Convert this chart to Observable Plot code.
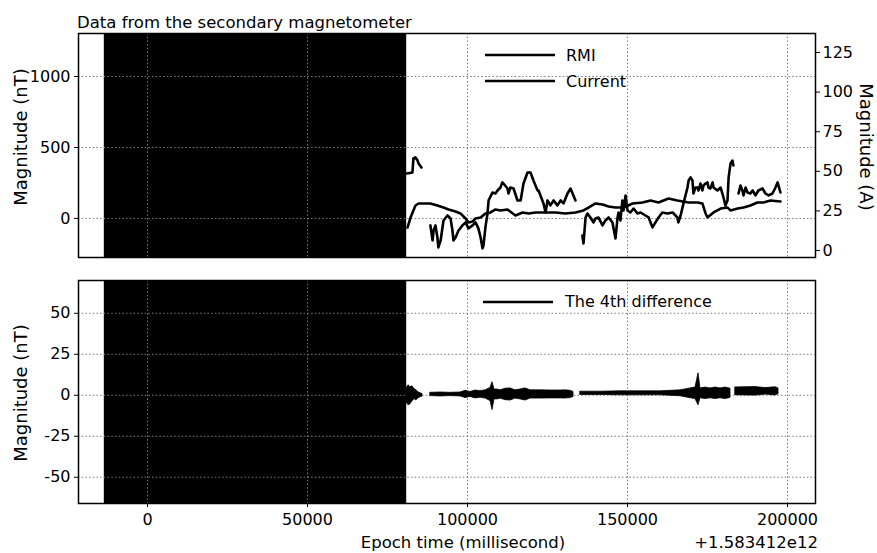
<!DOCTYPE html>
<html><head><meta charset="utf-8">
<script src="https://cdn.jsdelivr.net/npm/d3@7"></script>
<script src="https://cdn.jsdelivr.net/npm/@observablehq/plot@0.6"></script>
<style>
body{margin:0;background:#fff;}
#wrap{position:relative;width:877px;height:553px;overflow:hidden;background:#fff;}
#wrap > svg{position:absolute;left:0;}
</style></head><body><div id="wrap"></div>
<script>
// ---------- data ----------
const xTicks = [0, 50000, 100000, 150000, 200000];
const rmiTicks = [0, 500, 1000];
const currentTicks = [0, 25, 50, 75, 100, 125];
const diffTicks = [-50, -25, 0, 25, 50];

const shadeStart = [-13500];
const shadeEnd = [81000];

const rmiTime = [81000,82800,83100,83750,84400,84700,85600, 86800,
88400,89100,89400,90000,90600,90900,91600,92500,93750,94700,95300,95600,96250,97200,98400,99400,100300,101600,102500,103400,104100,104700,105000,105600,106250,106600,107800,108750,109400,110300,110900,111250,112500,112800,113400,114400,115600,116600,117500,118750,119700,120600,121900,122200,122800,123750,124400,125000,125900,126900,128100,129100,130000,131250,132200,133100,133750, 134800,
135900,136250,136900,137500,138400,139400,140000,140900,142200,143100,144100,145300,146250,146900,147200,147800,148400,148750,149400,150000,150900,151900,153100,154100,155600,156600,157800,158750,159700,160900,162500,164100,165600,165900,166600,167500,168750,169100,169700,170300,170600,171250,171900,172200,172800,173400,173750,174400,175000,175300,175900,176600,176900,178100,179100,180000,180600,181250,181600,182200,182800,183100, 183900,
184700,185300,185900,186250,186900,187500,188400,189100,190000,190900,192200,193100,194100,195300,196250,196900,197200,197800];
const rmiValue = [317,324,423,430,408,387,359, NaN,
-49,-155,-85,-49,-134,-204,-155,-14,21,0,-85,-155,-134,-85,-49,-28,-70,-49,-28,-70,-134,-211,-190,-63,35,127,183,176,197,218,254,246,211,176,218,211,127,127,246,324,324,268,197,197,162,106,42,127,92,127,92,127,106,176,211,162,127, NaN,
-120,-176,7,35,7,-28,0,7,-49,-14,7,-28,-141,7,42,-14,127,56,162,56,42,70,35,42,21,7,-63,-28,7,42,35,42,7,-28,21,106,218,268,289,268,176,218,218,197,246,197,232,246,254,218,211,254,218,197,218,148,92,127,289,387,408,373, NaN,
176,232,197,162,218,183,176,197,162,197,211,176,162,176,218,254,232,183];

const currentTime = [81250,82200,83750,84700,88400,90600,92500,94100,96250,97800,99400,100300,101600,102500,104100,105600,107200,108750,110300,112500,115000,117200,119100,121250,124400,127500,130600,133750,136250,137800,140000,142200,144100,146250,148750,151600,154700,157200,159700,162800,165600,169100,171900,173400,174400,175000,176900,179100,181250,182200,184400,186250,188400,190600,192500,194700,197800];
const currentValue = [14.5,20.8,28.4,29.7,29.7,28.4,27.1,25.9,24.6,23.4,20.2,17.7,18.3,20.2,20.8,23.4,24.0,25.9,25.3,25.9,22.1,24.0,23.4,24.0,24.0,24.0,23.4,24.0,25.3,27.1,29.7,29.0,27.8,27.1,27.1,29.7,30.3,31.6,30.3,32.8,31.6,30.3,30.3,29.7,23.4,20.8,24.0,26.5,27.1,25.3,26.5,27.1,28.4,30.3,30.3,31.6,30.9];

const diffTime = [80940,81560,82190,82810,83440,84060,84690,85310,85940, 87000,
88440,91560,94690,97810,99380,100940,102500,104060,105630,107190,107810,108440,109380,110310,111880,113440,115000,116560,118130,119690,122810,125940,129060,130630,132190,133130, 134200,
135310,141560,147810,154060,160310,163440,166560,168130,169690,171250,172190,172810,174380,175940,177500,179060,180630,182190, 183000,
183750,186880,190000,193130,196250,197190];
const diffHigh = [4.3,6.1,4.9,5.5,3.7,3.0,1.8,1.2,0.8, NaN,
1.5,1.7,1.5,1.7,2.7,2.0,2.9,2.5,3.0,4.5,8.0,3.5,3.5,3.0,4.0,4.2,3.0,3.5,4.2,3.0,3.0,2.9,2.9,3.0,2.7,2.0, NaN,
2.2,2.2,2.4,2.4,2.4,2.7,3.0,3.6,4.2,4.7,13.4,4.2,4.7,4.2,4.7,4.2,4.7,4.0, NaN,
4.8,4.9,5.0,4.4,4.9,4.2];
const diffLow = [-4.3,-6.1,-5.5,-3.7,-2.4,-3.0,-1.8,-1.2,-0.8, NaN,
-0.5,-0.7,-0.5,-0.7,-1.7,-1.0,-1.9,-1.5,-2.0,-3.5,-9.0,-2.5,-2.5,-2.0,-3.0,-3.2,-2.0,-2.5,-3.2,-2.0,-2.0,-1.9,-1.9,-2.0,-1.7,-1.0, NaN,
0.2,0.2,0.0,0.0,0.0,-0.3,-0.6,-1.2,-1.8,-2.3,-6.1,-1.8,-2.3,-1.8,-2.3,-1.8,-2.3,-1.6, NaN,
0.0,-0.1,-0.2,0.4,-0.1,0.6];

// ---------- scales ----------
const X_DOMAIN = [-21562.5, 208750];
const NT_DOMAIN = [-275, 1303];
const A_DOMAIN = [-4.42, 137.0];
const D_DOMAIN = [-66, 70];
const aToN = a => NT_DOMAIN[0] + (a - A_DOMAIN[0]) / (A_DOMAIN[1] - A_DOMAIN[0]) * (NT_DOMAIN[1] - NT_DOMAIN[0]);
const nToA = n => A_DOMAIN[0] + (n - NT_DOMAIN[0]) / (NT_DOMAIN[1] - NT_DOMAIN[0]) * (A_DOMAIN[1] - A_DOMAIN[0]);

const shade = shadeStart.map((s, i) => ({x1: s, x2: shadeEnd[i]}));
const rmi = rmiTime.map((t, i) => ({t, v: rmiValue[i]}));
const cur = currentTime.map((t, i) => ({t, v: aToN(currentValue[i])}));
const diff = diffTime.map((t, i) => ({t, hi: diffHigh[i], lo: diffLow[i]}));

const FONT = "DejaVu Sans, Verdana, sans-serif";
const grid = {stroke: "#7a7a7a", strokeOpacity: 1, strokeDasharray: "1.5,2.2", strokeWidth: 1};
const baseStyle = {fontFamily: FONT, fontSize: "16px", background: "transparent", color: "#000", overflow: "visible"};

const topPlot = Plot.plot({
  width: 877, height: 265, marginTop: 33, marginBottom: 8, marginLeft: 78, marginRight: 62,
  style: baseStyle,
  x: {domain: X_DOMAIN, axis: null},
  y: {domain: NT_DOMAIN},
  marks: [
    Plot.rect(shade, {x1: "x1", x2: "x2", y1: NT_DOMAIN[0], y2: NT_DOMAIN[1], fill: "#000"}),
    Plot.ruleX(xTicks, grid),
    Plot.ruleY(rmiTicks, grid),
    Plot.line(cur, {x: "t", y: "v", stroke: "#000", strokeWidth: 2.6}),
    Plot.line(rmi, {x: "t", y: "v", stroke: "#000", strokeWidth: 2.6}),
    Plot.axisY(rmiTicks, {anchor: "left", tickSize: 4, tickPadding: 4, label: null, tickFormat: d => String(d)}),
    Plot.axisY(currentTicks.map(aToN), {anchor: "right", tickSize: 4, tickPadding: 3, label: null, tickFormat: d => String(Math.round(nToA(d)))}),
    Plot.frame({stroke: "#000", strokeWidth: 1.5})
  ]
});
topPlot.style.top = "0px";

const bottomPlot = Plot.plot({
  width: 877, height: 288, marginTop: 15, marginBottom: 50, marginLeft: 78, marginRight: 62,
  style: baseStyle,
  x: {domain: X_DOMAIN},
  y: {domain: D_DOMAIN},
  marks: [
    Plot.rect(shade, {x1: "x1", x2: "x2", y1: D_DOMAIN[0], y2: D_DOMAIN[1], fill: "#000"}),
    Plot.ruleX(xTicks, grid),
    Plot.ruleY(diffTicks, grid),
    Plot.areaY(diff, {x: "t", y1: "lo", y2: "hi", fill: "#000", stroke: "#000", strokeWidth: 0.8}),
    Plot.axisY(diffTicks, {anchor: "left", tickSize: 4, tickPadding: 4, label: null, tickFormat: d => String(d)}),
    Plot.axisX(xTicks, {anchor: "bottom", tickSize: 4, tickPadding: 6.5, label: null, tickFormat: d => String(d)}),
    Plot.frame({stroke: "#000", strokeWidth: 1.5})
  ]
});
bottomPlot.style.top = "265px";

const wrap = document.getElementById("wrap");
wrap.appendChild(topPlot);
wrap.appendChild(bottomPlot);

// ---------- titles, axis labels and legends ----------
const ov = d3.select(wrap).append("svg")
  .attr("width", 877).attr("height", 553)
  .style("position", "absolute").style("top", "0px").style("left", "0px")
  .style("font-family", FONT).style("pointer-events", "none");

function txt(x, y, s, size, anchor, rot) {
  const t = ov.append("text").attr("x", x).attr("y", y).attr("font-size", size)
    .attr("text-anchor", anchor || "start").attr("fill", "#000").text(s);
  if (rot) t.attr("transform", `rotate(${rot},${x},${y})`);
  return t;
}
txt(77, 28, "Data from the secondary magnetometer", 16.5);
txt(27, 137, "Magnitude (nT)", 18, "middle", -90);
txt(27, 393, "Magnitude (nT)", 18, "middle", -90);
txt(860, 147, "Magnitude (A)", 18, "middle", 90);
txt(463, 548, "Epoch time (millisecond)", 16.5, "middle");
txt(818, 548, "+1.583412e12", 16.5, "end");

const legendTop = ["RMI", "Current"];
const legendBottom = ["The 4th difference"];
legendTop.forEach((s, i) => {
  const y = 55 + i * 26;
  ov.append("line").attr("x1", 485).attr("x2", 555).attr("y1", y).attr("y2", y).attr("stroke", "#000").attr("stroke-width", 2.6);
  txt(566, y + 6, s, 16);
});
legendBottom.forEach((s, i) => {
  const y = 302 + i * 26;
  ov.append("line").attr("x1", 483).attr("x2", 553).attr("y1", y).attr("y2", y).attr("stroke", "#000").attr("stroke-width", 2.6);
  txt(565, y + 5, s, 16);
});
</script></body></html>
